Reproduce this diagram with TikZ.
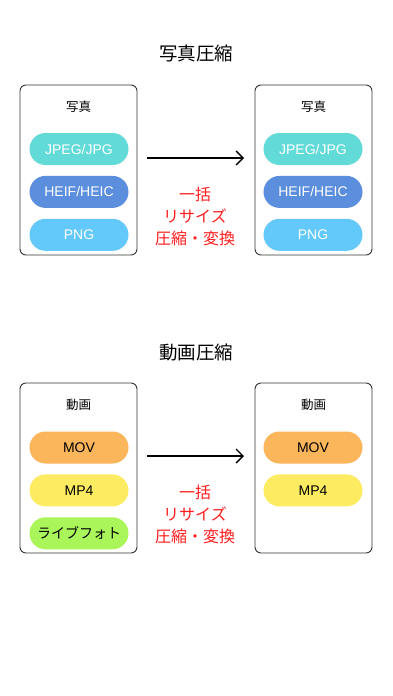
\documentclass[tikz,border=0pt]{standalone}
\usepackage{fontspec}
\setmainfont{Liberation Sans}
\newfontfamily\jpfont{Noto Sans CJK JP}
\usetikzlibrary{arrows.meta,positioning}

\definecolor{jpgteal}{HTML}{62DAD8}
\definecolor{heifblue}{HTML}{5B8EDC}
\definecolor{pngsky}{HTML}{62C9FA}
\definecolor{movorange}{HTML}{FBB55B}
\definecolor{mpyellow}{HTML}{FDEB62}
\definecolor{livegreen}{HTML}{AAF65A}
\definecolor{batchred}{HTML}{FF1E1E}

\tikzset{
  heading/.style={font=\jpfont\fontsize{18.5}{20}\selectfont},
  panel/.style={draw=black!80, line width=0.9pt, rounded corners=6pt,
                minimum width=117pt, minimum height=170pt},
  panellabel/.style={font=\jpfont\fontsize{12.5}{14}\selectfont},
  pill/.style={rounded corners=16pt, minimum width=99pt, minimum height=32pt,
               inner sep=0pt, font=\fontsize{14}{14}\selectfont},
  batch/.style={align=center, text=batchred,
                font=\jpfont\fontsize{16}{22}\selectfont},
  flow/.style={line width=1.4pt, -{Straight Barb[length=7pt, width=14pt, line width=1.4pt]}}
}

\begin{document}
\begin{tikzpicture}[x=1pt, y=-1pt, node distance=10.5pt]
  \useasboundingbox[fill=white] (0,0) rectangle (392,696);

  % photos
  \node (photohead) [heading] at (196,53) {写真圧縮};

  \node (photoin)  [panel] at (78.5,170)  {};
  \node (photoout) [panel] at (313.5,170) {};
  \node (photoinlab)  [panellabel] at (78.5,107) {写真};
  \node (photooutlab) [panellabel] at (313.5,107) {写真};

  \node (jpgin)  [pill, fill=jpgteal, text=white] at (79,149) {JPEG/JPG};
  \node (heifin) [pill, fill=heifblue, text=white, below=of jpgin]  {HEIF/HEIC};
  \node (pngin)  [pill, fill=pngsky, text=white, below=of heifin]   {PNG};

  \node (jpgout)  [pill, fill=jpgteal, text=white] at (313,149) {JPEG/JPG};
  \node (heifout) [pill, fill=heifblue, text=white, below=of jpgout] {HEIF/HEIC};
  \node (pngout)  [pill, fill=pngsky, text=white, below=of heifout]  {PNG};

  \coordinate (photofrom) at (147,158);
  \coordinate (phototo)   at (244,158);
  \draw[flow] (photofrom) -- (phototo);
  \node (photobatch) [batch] at (195,216) {一括\\リサイズ\\圧縮・変換};

  % videos
  \node (videohead) [heading] at (196,352) {動画圧縮};

  \node (videoin)  [panel] at (78.5,468)  {};
  \node (videoout) [panel] at (313.5,468) {};
  \node (videoinlab)  [panellabel] at (78.5,405) {動画};
  \node (videooutlab) [panellabel] at (313.5,405) {動画};

  \node (movin)  [pill, fill=movorange] at (79,447.5) {MOV};
  \node (mp4in)  [pill, fill=mpyellow, below=of movin] {MP4};
  \node (livein) [pill, fill=livegreen, below=of mp4in] {\jpfont ライブフォト};

  \node (movout) [pill, fill=movorange] at (313,447.5) {MOV};
  \node (mp4out) [pill, fill=mpyellow, below=of movout] {MP4};

  \coordinate (videofrom) at (147,456);
  \coordinate (videoto)   at (244,456);
  \draw[flow] (videofrom) -- (videoto);
  \node (videobatch) [batch] at (195,514) {一括\\リサイズ\\圧縮・変換};
\end{tikzpicture}
\end{document}
